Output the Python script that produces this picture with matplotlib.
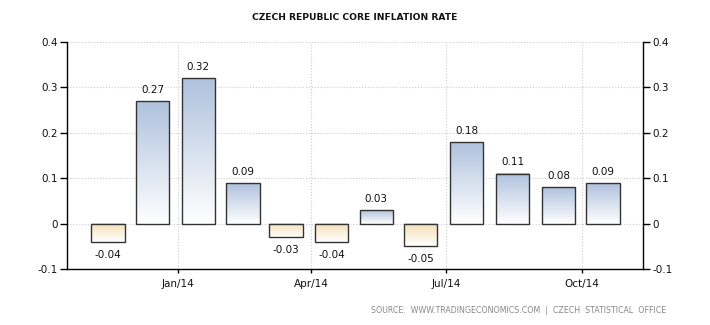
import datetime as dt
import numpy as np
import matplotlib
matplotlib.use("Agg")
import matplotlib.pyplot as plt
import matplotlib.dates as mdates
from matplotlib.colors import LinearSegmentedColormap

# monthly core inflation, Nov 2013 - Oct 2014
months = [dt.date(2013, 11, 15), dt.date(2013, 12, 15), dt.date(2014, 1, 15),
          dt.date(2014, 2, 14), dt.date(2014, 3, 15), dt.date(2014, 4, 15),
          dt.date(2014, 5, 15), dt.date(2014, 6, 14), dt.date(2014, 7, 15),
          dt.date(2014, 8, 15), dt.date(2014, 9, 15), dt.date(2014, 10, 15)]
values = [-0.04, 0.27, 0.32, 0.09, -0.03, -0.04, 0.03, -0.05, 0.18, 0.11, 0.08, 0.09]
tick_dates = [dt.date(2014, 1, 1), dt.date(2014, 4, 1), dt.date(2014, 7, 1), dt.date(2014, 10, 1)]
tick_labels = ['Jan/14', 'Apr/14', 'Jul/14', 'Oct/14']
y_ticks = [-0.1, 0, 0.1, 0.2, 0.3, 0.4]
y_labels = ['-0.1', '0', '0.1', '0.2', '0.3', '0.4']

fig = plt.figure(figsize=(7.1, 3.25), dpi=100)
ax = fig.add_axes([0.0937, 0.1723, 0.8119, 0.6994])

x = mdates.date2num(months)
width = 22.5

# gradient colour maps: positive bars white at bottom -> blue on top,
# negative bars peach at the zero line -> white at the bottom
pos_cmap = LinearSegmentedColormap.from_list('pos', ['#ffffff', '#b0c2de'])
neg_cmap = LinearSegmentedColormap.from_list('neg', ['#ffffff', '#f6dfb6'])
grad = np.linspace(0, 1, 100).reshape(-1, 1)

bars = ax.bar(x, values, width=width, facecolor='none', edgecolor='#333333',
              linewidth=1.0, zorder=3)
for b, v in zip(bars, values):
    x0, y0 = b.get_x(), b.get_y()
    w, h = b.get_width(), b.get_height()
    cmap = pos_cmap if v >= 0 else neg_cmap
    ax.imshow(grad, cmap=cmap, aspect='auto', zorder=2, origin='lower',
              extent=[x0, x0 + w, min(y0, y0 + h), max(y0, y0 + h)])
    if v >= 0:
        ax.annotate(f'{v:.2f}', (x0 + w / 2, v), xytext=(0, 8), textcoords='offset points',
                    ha='center', va='center', fontsize=7.5, color='#111111')
    else:
        ax.annotate(f'{v:.2f}', (x0 + w / 2, v), xytext=(0, -9.5), textcoords='offset points',
                    ha='center', va='center', fontsize=7.5, color='#111111')

ax.set_xlim(mdates.date2num(dt.date(2013, 10, 18)), mdates.date2num(dt.date(2014, 11, 11)))
ax.set_ylim(-0.1, 0.4)

ax.set_xticks(mdates.date2num(tick_dates))
ax.set_xticklabels(tick_labels)
ax.set_yticks(y_ticks)
ax.set_yticklabels(y_labels)

ax.grid(True, color='#cccccc', linestyle=':', linewidth=0.8, zorder=0)
ax.set_axisbelow(True)

for s in ['left', 'right', 'bottom']:
    ax.spines[s].set_color('black')
    ax.spines[s].set_linewidth(1.0)
ax.spines['top'].set_visible(False)

ax.tick_params(axis='y', which='both', left=True, right=True, labelleft=True, labelright=True,
               length=5, width=1, pad=1.5, labelsize=7.5, labelcolor='#111111')
ax.tick_params(axis='x', length=3, width=1, pad=4, labelsize=7.5, labelcolor='#111111')

fig.text(0.5, 0.945, 'CZECH REPUBLIC CORE INFLATION RATE', ha='center', va='center',
         fontsize=6.6, fontweight='bold', color='#111111')
fig.text(0.9385, 0.045, 'SOURCE:  WWW.TRADINGECONOMICS.COM  |  CZECH  STATISTICAL  OFFICE',
         ha='right', va='center', fontsize=5.7, color='#888888')

fig.savefig('out.png', dpi=100)
